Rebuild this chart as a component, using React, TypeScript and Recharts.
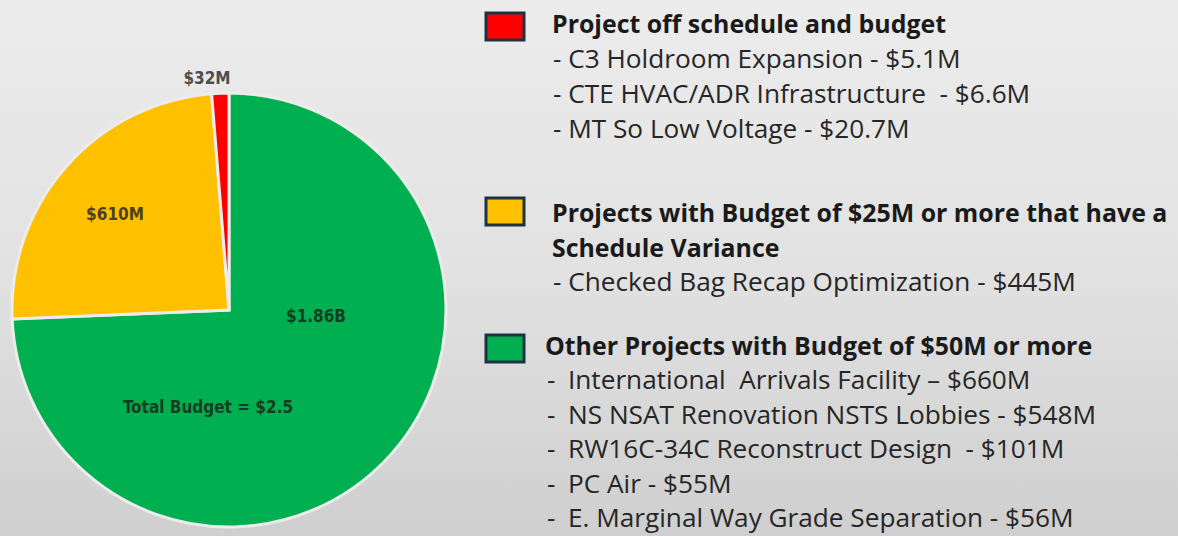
import React from 'react';
import { PieChart, Pie, Cell, Customized } from 'recharts';

// ---- data ----
const categories = [
  'Other Projects with Budget of $50M or more',
  'Projects with Budget of $25M or more that have a Schedule Variance',
  'Project off schedule and budget',
];
const values = [1860, 610, 32];
const sliceLabels = ['$1.86B', '$610M', '$32M'];
const totalLabel = 'Total Budget = $2.5';

const redHeading = ['Project off schedule and budget'];
const redItems = [
  'C3 Holdroom Expansion - $5.1M',
  'CTE HVAC/ADR Infrastructure  - $6.6M',
  'MT So Low Voltage - $20.7M',
];
const yellowHeading = ['Projects with Budget of $25M or more that have a', 'Schedule Variance'];
const yellowItems = ['Checked Bag Recap Optimization - $445M'];
const greenHeading = ['Other Projects with Budget of $50M or more'];
const greenItems = [
  'International  Arrivals Facility – $660M',
  'NS NSAT Renovation NSTS Lobbies - $548M',
  'RW16C-34C Reconstruct Design  - $101M',
  'PC Air - $55M',
  'E. Marginal Way Grade Separation - $56M',
];

// ---- styles ----
const COLORS = ['#00B050', '#FFC000', '#FF0000'];
const LABEL_COLORS = ['#143d22', '#4a4020', '#4d4d4d'];
const CX = 229;
const CY = 310;
const R = 217;
const LABEL_OFFSETS: [number, number][] = [
  [87, 12],
  [-114, -90],
  [-22, -226],
];
const TOTAL_OFFSET: [number, number] = [-21, 103];
const LABEL_FONT = "'DejaVu Sans Condensed', 'Liberation Sans Narrow', sans-serif";
const LEGEND_FONT = "'Open Sans', 'Noto Sans', sans-serif";
const HEAD_SIZE = 24.9;
const ITEM_SIZE = 26.2;

const chartData = categories.map((name, i) => ({ name, value: values[i], label: sliceLabels[i] }));

const labelText = (x: number, y: number, color: string, text: string, key?: string) => (
  <text
    key={key}
    x={x}
    y={y}
    textAnchor="middle"
    fill={color}
    fontFamily={LABEL_FONT}
    fontWeight="bold"
    fontSize={17}
    style={{ fontStretch: 'condensed' }}
  >
    {text}
  </text>
);

const renderLabel = (props: any) => {
  const { cx, cy, index } = props;
  const [dx, dy] = LABEL_OFFSETS[index];
  if (index === 0) {
    return (
      <g>
        {labelText(cx + dx, cy + dy, LABEL_COLORS[index], sliceLabels[index], 'a')}
        {labelText(cx + TOTAL_OFFSET[0], cy + TOTAL_OFFSET[1], LABEL_COLORS[0], totalLabel, 'b')}
      </g>
    );
  }
  return labelText(cx + dx, cy + dy, LABEL_COLORS[index], sliceLabels[index]);
};

const groups = [
  { color: COLORS[2], heading: redHeading, items: redItems, baseline: 33, square: 13, headX: 552, dashX: 553, textX: 553, spaced: false, step: 35 },
  { color: COLORS[1], heading: yellowHeading, items: yellowItems, baseline: 222, square: 198, headX: 552, dashX: 553, textX: 553, spaced: false, step: 34.5 },
  { color: COLORS[0], heading: greenHeading, items: greenItems, baseline: 355, square: 335, headX: 545, dashX: 547, textX: 568, spaced: true, step: 34.4 },
];

const LegendLayer = () => (
  <g>
    {groups.map((g, gi) => {
      let y = g.baseline;
      const nodes: React.ReactNode[] = [];
      nodes.push(
        <rect key={`sq${gi}`} x={486} y={g.square} width={38} height={27} fill={g.color} stroke="#1d3340" strokeWidth={3} />
      );
      g.heading.forEach((h, hi) => {
        nodes.push(
          <text key={`h${gi}-${hi}`} x={g.headX} y={y} fontFamily={LEGEND_FONT} fontWeight="bold" fontSize={HEAD_SIZE} fill="#1a1a1a">
            {h}
          </text>
        );
        y += g.step;
      });
      g.items.forEach((it, ii) => {
        if (g.spaced) {
          nodes.push(
            <text key={`d${gi}-${ii}`} x={g.dashX} y={y} fontFamily={LEGEND_FONT} fontSize={ITEM_SIZE} fill="#262626">
              -
            </text>
          );
          nodes.push(
            <text key={`i${gi}-${ii}`} x={g.textX} y={y} fontFamily={LEGEND_FONT} fontSize={ITEM_SIZE} fill="#262626" style={{ whiteSpace: 'pre' }}>
              {it}
            </text>
          );
        } else {
          nodes.push(
            <text key={`i${gi}-${ii}`} x={g.textX} y={y} fontFamily={LEGEND_FONT} fontSize={ITEM_SIZE} fill="#262626" style={{ whiteSpace: 'pre' }}>
              {'- ' + it}
            </text>
          );
        }
        y += g.step;
      });
      return <g key={`g${gi}`}>{nodes}</g>;
    })}
  </g>
);

export default function App() {
  return (
    <div
      style={{
        position: 'absolute',
        left: 0,
        top: 0,
        width: 1178,
        height: 536,
        background: 'linear-gradient(180deg, #ececec 0%, #e2e2e2 50%, #cfcfcf 100%)',
      }}
    >
      <PieChart width={1178} height={536} margin={{ top: 0, right: 0, bottom: 0, left: 0 }}>
        <Pie
          data={chartData}
          dataKey="value"
          nameKey="name"
          cx={CX}
          cy={CY}
          outerRadius={R}
          startAngle={90}
          endAngle={-270}
          stroke="#ececec"
          strokeWidth={3}
          label={renderLabel}
          labelLine={false}
          isAnimationActive={false}
        >
          {chartData.map((d, i) => (
            <Cell key={d.name} fill={COLORS[i]} />
          ))}
        </Pie>
        <Customized component={LegendLayer} />
      </PieChart>
    </div>
  );
}
